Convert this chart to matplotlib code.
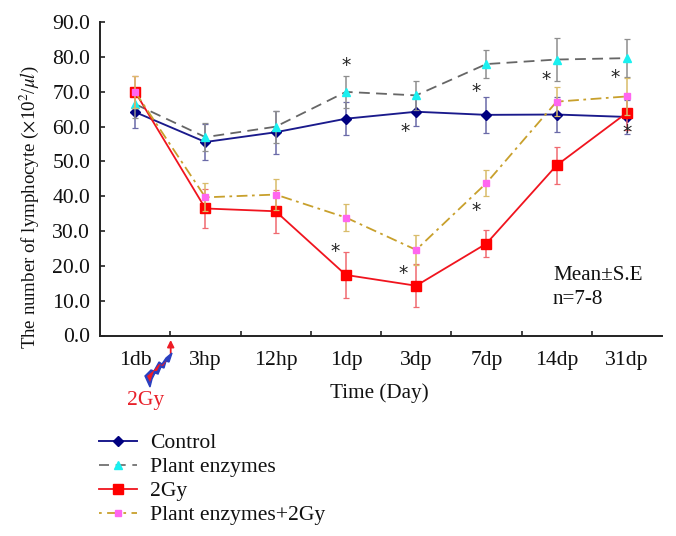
import matplotlib
matplotlib.use("Agg")
import matplotlib.pyplot as plt
from matplotlib.lines import Line2D
from matplotlib.patches import Polygon

categories = ["1db", "3hp", "12hp", "1dp", "3dp", "7dp", "14dp", "31dp"]
y_ticks = [0, 10, 20, 30, 40, 50, 60, 70, 80, 90]

control = [64.2, 55.6, 58.4, 62.3, 64.3, 63.4, 63.5, 62.8]
control_err = [4.5, 5.3, 6.2, 4.7, 4.2, 5.1, 5.0, 5.0]
plant = [66.5, 57.0, 60.0, 70.0, 69.0, 78.0, 79.3, 79.7]
plant_err = [4.0, 4.0, 4.6, 4.7, 4.2, 4.0, 6.2, 5.5]
gy = [70.0, 36.5, 35.7, 17.4, 14.3, 26.4, 48.9, 64.0]
gy_err = [4.5, 5.5, 6.2, 6.7, 6.2, 3.8, 5.4, 5.0]
plant_gy = [70.0, 39.7, 40.5, 33.9, 24.6, 43.8, 67.2, 68.7]
plant_gy_err = [4.5, 4.0, 4.5, 3.8, 4.3, 3.8, 4.2, 5.4]

# asterisk annotations (category position, value)
star_x = [3.0, 2.85, 3.85, 3.82, 4.85, 4.85, 5.85, 6.83, 7.0]
star_y = [77.5, 24.0, 58.7, 17.8, 70.0, 36.0, 73.5, 74.0, 58.2]

plt.rcParams["font.family"] = ["Liberation Serif", "DejaVu Serif"]
plt.rcParams["mathtext.fontset"] = "stix"

W, H = 676, 536
fig = plt.figure(figsize=(W / 100, H / 100), dpi=100)
L, R, T, B = 100, 662, 22.3, 335.5
ax = fig.add_axes([L / W, 1 - B / H, (R - L) / W, (B - T) / H])
x = list(range(len(categories)))
FS = 15.6


def series(vals, errs, color, ecolor, ls, lw, marker, ms, mfc, z):
    ax.errorbar(x, vals, yerr=errs, fmt="none", ecolor=ecolor, elinewidth=1.1,
                capsize=2.0, capthick=0.9, zorder=z - 1)
    ax.plot(x, vals, color=color, ls=ls, lw=lw, marker=marker, ms=ms, mfc=mfc,
            mec=mfc, zorder=z)


dash = (0, (6, 3.5))
dashdot = (0, (6, 2.5, 1.5, 2.5))
series(control, control_err, "#1A1A8C", "#6A6AA8", "-", 1.35, "D", 4.8, "#000080", 3)
series(plant, plant_err, "#666666", "#8E8E8E", dash, 1.3, "^", 5.5, "#19F0F0", 4)
series(gy, gy_err, "#F0141E", "#F06A70", "-", 1.3, "s", 7, "#FF0000", 5)
series(plant_gy, plant_gy_err, "#C8A02C", "#D9BC6A", dashdot, 1.3, "s", 5, "#FF66F0", 6)

ax.set_xlim(-0.5, 7.5)
ax.set_ylim(0, 90)
ax.set_yticks(y_ticks)
ax.set_yticklabels([f"{v:.1f}" for v in y_ticks])
ax.set_xticks([i + 0.5 for i in range(7)])
ax.set_xticklabels([])
ax.set_xticks(x, minor=True)
ax.set_xticklabels(categories, minor=True)
ax.tick_params(axis="x", which="minor", length=0, pad=11, labelsize=FS, colors="#111111")
ax.tick_params(axis="x", which="major", direction="in", length=3.5, width=1.2, color="#222222")
ax.tick_params(axis="y", direction="in", length=3.5, width=1.2, color="#222222",
               labelsize=FS, pad=7, labelcolor="#111111")
for s in ("top", "right"):
    ax.spines[s].set_visible(False)
for s in ("left", "bottom"):
    ax.spines[s].set_linewidth(1.4)
    ax.spines[s].set_color("#222222")

ax.set_xlabel("Time (Day)", fontsize=15.2, color="#111111")
ax.xaxis.set_label_coords((379 - L) / (R - L), -(383 - B) / (B - T))
ax.set_ylabel(r"The number of lymphocyte ($\times$10$^{2}$/$\mu l$)", fontsize=13.6, color="#111111")
ax.yaxis.set_label_coords((41 - L) / (R - L), (B - 207) / (B - T))

for sx, sy in zip(star_x, star_y):
    ax.text(sx, sy, "*", fontsize=13.5, ha="center", va="center", color="#222222",
            family="DejaVu Sans", zorder=8)


def fx(px):
    return px / W


def fy(py):
    return 1 - py / H


ax.text(fx(553), fy(276), "Mean±S.E", transform=fig.transFigure, fontsize=15.2,
        va="center", color="#111111")
ax.text(fx(553), fy(299), "n=7-8", transform=fig.transFigure, fontsize=15.2,
        va="center", color="#111111")

# Radiation marker below the axis
bolt = [(172, 353), (169, 362), (166, 361), (164, 368), (161, 367), (158, 374),
        (155, 373), (152, 379), (150, 387), (145, 376), (151, 370), (154, 371),
        (159, 362), (162, 364), (166, 358)]
fig.add_artist(Polygon([(fx(a), fy(b)) for a, b in bolt], closed=True,
                       transform=fig.transFigure, fc="#2A3FC0", ec="#2A3FC0", lw=1))
inner = [(167, 360), (163, 366), (160, 365), (157, 371), (154, 371), (150, 382),
         (147, 376), (152, 372), (155, 369), (159, 364), (162, 365)]
fig.add_artist(Polygon([(fx(a), fy(b)) for a, b in inner], closed=True,
                       transform=fig.transFigure, fc="#EE1C25", ec="none"))
ax.annotate("", xy=(fx(170.7), fy(340)), xytext=(fx(170.7), fy(354)),
            xycoords="figure fraction", textcoords="figure fraction",
            arrowprops=dict(arrowstyle="-|>,head_width=0.2,head_length=0.4",
                            color="#EE1C25", lw=1.3, shrinkA=0, shrinkB=0),
            annotation_clip=False)
ax.text(fx(146), fy(400), "2Gy", transform=fig.transFigure, fontsize=FS, ha="center",
        va="center", color="#E8202A")

handles = [
    Line2D([], [], color="#1A1A8C", ls="-", lw=1.4, marker="D", ms=4.8, mfc="#000080", mec="#000080"),
    Line2D([], [], color="#666666", ls=(0, (6, 4)), lw=1.2, marker="^", ms=5.5, mfc="#19F0F0", mec="#19F0F0"),
    Line2D([], [], color="#F0141E", ls="-", lw=1.3, marker="s", ms=7, mfc="#FF0000", mec="#FF0000"),
    Line2D([], [], color="#C8A02C", ls=(0, (1.5, 3, 6, 3)), lw=1.3, marker="s", ms=5, mfc="#FF66F0", mec="#FF66F0"),
]
labels = ["Control", "Plant enzymes", "2Gy", "Plant enzymes+2Gy"]
fig.legend(handles, labels, loc="upper left", bbox_to_anchor=(fx(99), fy(433)),
           frameon=False, fontsize=FS, handlelength=1.74, handletextpad=0.6,
           labelspacing=0.18, borderpad=0, borderaxespad=0, labelcolor="#111111")

fig.savefig("out.png", dpi=100)
